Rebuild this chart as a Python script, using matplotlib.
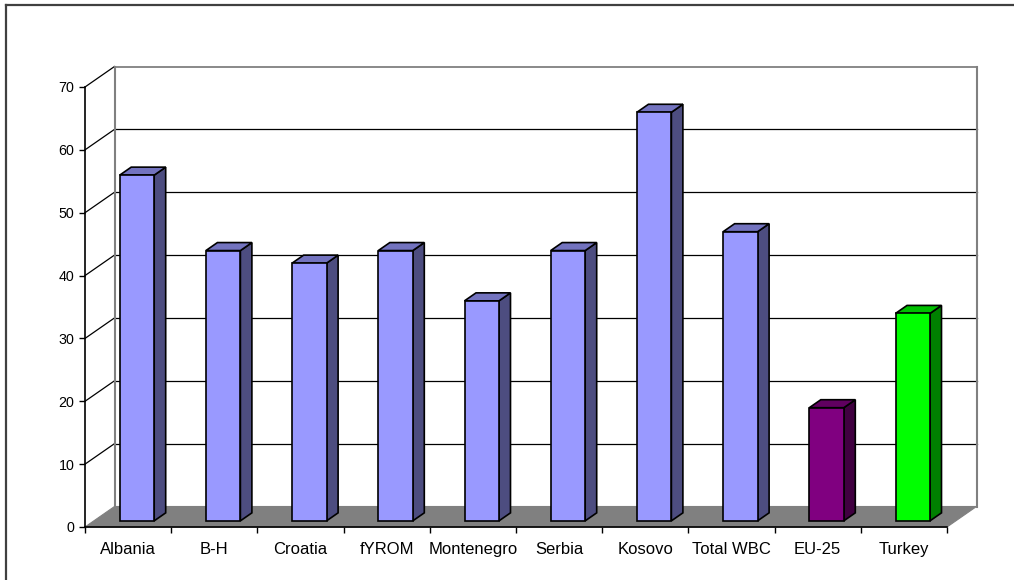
import matplotlib.pyplot as plt
from matplotlib.patches import Polygon
from matplotlib.lines import Line2D
import numpy as np

plt.rcParams['font.family'] = ['Liberation Sans', 'DejaVu Sans']

categories = ['Albania', 'B-H', 'Croatia', 'fYROM', 'Montenegro', 'Serbia',
              'Kosovo', 'Total WBC', 'EU-25', 'Turkey']
values = [55, 43, 41, 43, 35, 43, 65, 46, 18, 33]
y_ticks = [0, 10, 20, 30, 40, 50, 60, 70]

# front / side / top face colours per bar
face_front = ['#9999FF'] * 8 + ['#800080', '#00FF00']
face_side = ['#4D4D80'] * 8 + ['#400040', '#008000']
face_top = ['#7373BF'] * 8 + ['#600060', '#00BF00']

W, H = 1014, 580
DX, DY = 29.5, 20.5          # depth of the 3-D box in pixels
BAR_W = 0.40                  # bar width as fraction of a category
F0, F1 = 0.30, 0.69           # bar depth span as fraction of the box

fig = plt.figure(figsize=(W / 100, H / 100), dpi=100)
ax = fig.add_axes([85 / W, 1 - 527 / H, 862 / W, 440 / H])
ax.set_xlim(0, len(categories))
ax.set_ylim(0, 70)
ax.patch.set_visible(False)
for s in ['top', 'right']:
    ax.spines[s].set_visible(False)
ax.spines['left'].set_linewidth(1.2)
ax.spines['bottom'].set_linewidth(1.2)
ax.spines['left'].set_zorder(6)
ax.spines['bottom'].set_zorder(6)

ax.set_yticks(y_ticks)
ax.tick_params(axis='y', length=4.5, width=1, pad=3, labelsize=10.3)
ax.set_xticks(np.arange(len(categories)) + 0.5)
ax.set_xticklabels(categories)
ax.set_xticks(np.arange(len(categories) + 1), minor=True)
ax.tick_params(axis='x', which='major', length=0, pad=11, labelsize=12)
ax.tick_params(axis='x', which='minor', length=4, width=1)


def proj(x, v, f):
    px, py = ax.transData.transform((x, v))
    return (px + f * DX, py + f * DY)


def poly(pts, fc, ec='black', lw=1.2, z=3):
    p = Polygon(pts, closed=True, facecolor=fc, edgecolor=ec, linewidth=lw,
                transform=None, clip_on=False, zorder=z, joinstyle='miter')
    ax.add_artist(p)


def line(p0, p1, color='black', lw=0.9, z=2):
    ax.add_artist(Line2D([p0[0], p1[0]], [p0[1], p1[1]], color=color,
                         linewidth=lw, transform=None, clip_on=False, zorder=z))


n = len(categories)

# back wall gridlines and side wall gridlines
for t in y_ticks[1:]:
    c = '#808080' if t == y_ticks[-1] else 'black'
    line(proj(0, t, 1), proj(n, t, 1), color=c, lw=1.3 if c != 'black' else 0.9)
    line(proj(0, t, 0), proj(0, t, 1))
# back wall vertical edges
line(proj(0, 0, 1), proj(0, 70, 1), color='#808080', lw=1.5)
line(proj(n, 0, 1), proj(n, 70, 1), color='#808080', lw=1.5)

# floor
poly([proj(0, 0, 0), proj(n, 0, 0), proj(n, 0, 1), proj(0, 0, 1)],
     '#808080', ec='#808080', lw=0.8, z=2)

# bars
for i, v in enumerate(values):
    x0 = i + 0.5 - BAR_W / 2
    x1 = i + 0.5 + BAR_W / 2
    poly([proj(x1, 0, F0), proj(x1, 0, F1), proj(x1, v, F1), proj(x1, v, F0)],
         face_side[i])
    poly([proj(x0, v, F0), proj(x1, v, F0), proj(x1, v, F1), proj(x0, v, F1)],
         face_top[i])
    poly([proj(x0, 0, F0), proj(x1, 0, F0), proj(x1, v, F0), proj(x0, v, F0)],
         face_front[i])

# outer frame (left and top edges)
fig.add_artist(Line2D([5.5 / W, 5.5 / W], [0, 1 - 5 / H], color='#404040',
                      linewidth=1.6, transform=fig.transFigure))
fig.add_artist(Line2D([5.5 / W, 1], [1 - 5 / H, 1 - 5 / H], color='#404040',
                      linewidth=1.6, transform=fig.transFigure))

fig.savefig('out.png', dpi=100)
